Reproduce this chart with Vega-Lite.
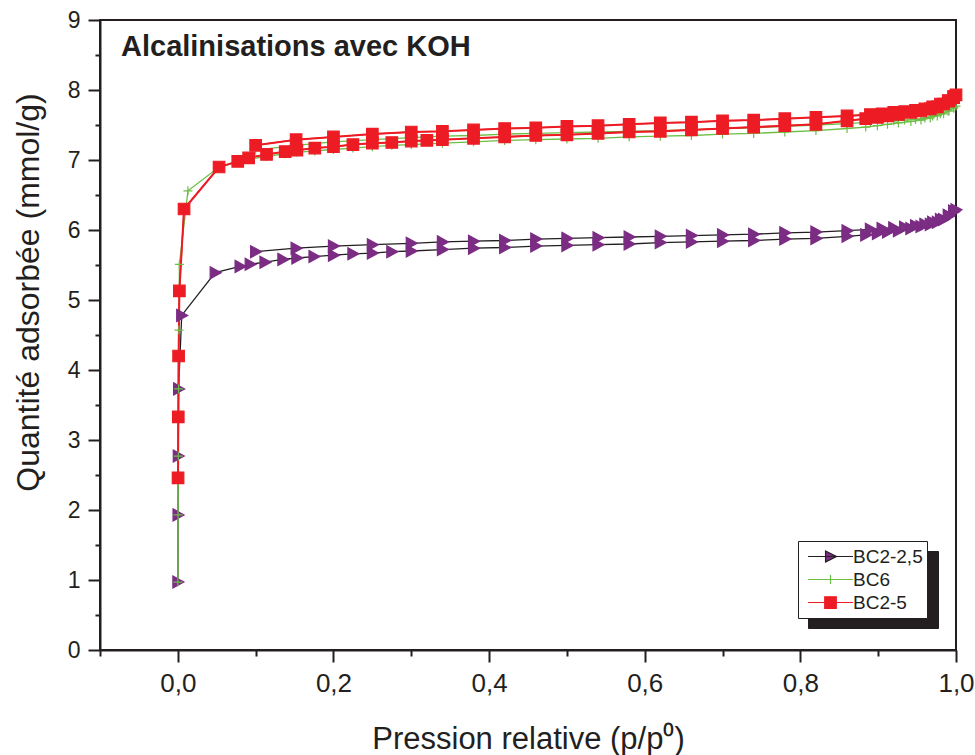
{
  "$schema": "https://vega.github.io/schema/vega-lite/v6.json",
  "width": 856,
  "height": 630,
  "autosize": {"type": "none"},
  "padding": {"left": 100, "top": 20, "right": 19, "bottom": 105},
  "background": "white",
  "config": {
    "view": {"stroke": "#231F20", "strokeWidth": 2},
    "axis": {
      "domainColor": "#231F20", "domainWidth": 2, "tickColor": "#231F20", "tickWidth": 2,
      "labelColor": "#231F20", "titleColor": "#231F20", "labelFont": "Liberation Sans",
      "titleFont": "Liberation Sans", "titleFontWeight": "normal", "grid": false,
      "labelOverlap": false, "labelFlush": false
    }
  },
  "title": {
    "text": "Alcalinisations avec KOH", "anchor": "start", "frame": "group",
    "font": "Liberation Sans", "fontSize": 29, "fontWeight": "bold", "color": "#231F20",
    "baseline": "alphabetic", "offset": 0, "dx": 21, "dy": 76
  },
  "data": {"values": [
    {"s":"BC2-2,5","b":"a","x":0.0001,"y":0.97},{"s":"BC2-2,5","b":"a","x":0.0003,"y":1.93},{"s":"BC2-2,5","b":"a","x":0.0006,"y":2.77},{"s":"BC2-2,5","b":"a","x":0.001,"y":3.73},{"s":"BC2-2,5","b":"a","x":0.005,"y":4.78},{"s":"BC2-2,5","b":"a","x":0.048,"y":5.39},{"s":"BC2-2,5","b":"a","x":0.08,"y":5.48},{"s":"BC2-2,5","b":"a","x":0.093,"y":5.51},{"s":"BC2-2,5","b":"a","x":0.112,"y":5.54},{"s":"BC2-2,5","b":"a","x":0.135,"y":5.58},{"s":"BC2-2,5","b":"a","x":0.153,"y":5.6},{"s":"BC2-2,5","b":"a","x":0.175,"y":5.62},{"s":"BC2-2,5","b":"a","x":0.2,"y":5.64},{"s":"BC2-2,5","b":"a","x":0.225,"y":5.66},{"s":"BC2-2,5","b":"a","x":0.25,"y":5.67},{"s":"BC2-2,5","b":"a","x":0.275,"y":5.69},{"s":"BC2-2,5","b":"a","x":0.3,"y":5.7},{"s":"BC2-2,5","b":"a","x":0.34,"y":5.72},{"s":"BC2-2,5","b":"a","x":0.38,"y":5.74},{"s":"BC2-2,5","b":"a","x":0.42,"y":5.75},{"s":"BC2-2,5","b":"a","x":0.46,"y":5.77},{"s":"BC2-2,5","b":"a","x":0.5,"y":5.78},{"s":"BC2-2,5","b":"a","x":0.54,"y":5.79},{"s":"BC2-2,5","b":"a","x":0.58,"y":5.8},{"s":"BC2-2,5","b":"a","x":0.62,"y":5.82},{"s":"BC2-2,5","b":"a","x":0.66,"y":5.83},{"s":"BC2-2,5","b":"a","x":0.7,"y":5.84},{"s":"BC2-2,5","b":"a","x":0.74,"y":5.85},{"s":"BC2-2,5","b":"a","x":0.78,"y":5.87},{"s":"BC2-2,5","b":"a","x":0.82,"y":5.88},{"s":"BC2-2,5","b":"a","x":0.86,"y":5.91},{"s":"BC2-2,5","b":"a","x":0.884,"y":5.93},{"s":"BC2-2,5","b":"a","x":0.899,"y":5.95},{"s":"BC2-2,5","b":"a","x":0.912,"y":5.97},{"s":"BC2-2,5","b":"a","x":0.926,"y":5.99},{"s":"BC2-2,5","b":"a","x":0.942,"y":6.02},{"s":"BC2-2,5","b":"a","x":0.955,"y":6.05},{"s":"BC2-2,5","b":"a","x":0.967,"y":6.08},{"s":"BC2-2,5","b":"a","x":0.976,"y":6.11},{"s":"BC2-2,5","b":"a","x":0.984,"y":6.15},{"s":"BC2-2,5","b":"a","x":0.991,"y":6.2},{"s":"BC2-2,5","b":"a","x":0.997,"y":6.26},{"s":"BC2-2,5","b":"a","x":1.0,"y":6.29},
    {"s":"BC2-2,5","b":"d","x":0.997,"y":6.27},{"s":"BC2-2,5","b":"d","x":0.99,"y":6.21},{"s":"BC2-2,5","b":"d","x":0.98,"y":6.15},{"s":"BC2-2,5","b":"d","x":0.97,"y":6.11},{"s":"BC2-2,5","b":"d","x":0.96,"y":6.08},{"s":"BC2-2,5","b":"d","x":0.948,"y":6.06},{"s":"BC2-2,5","b":"d","x":0.934,"y":6.04},{"s":"BC2-2,5","b":"d","x":0.92,"y":6.03},{"s":"BC2-2,5","b":"d","x":0.905,"y":6.02},{"s":"BC2-2,5","b":"d","x":0.89,"y":6.01},{"s":"BC2-2,5","b":"d","x":0.86,"y":5.99},{"s":"BC2-2,5","b":"d","x":0.82,"y":5.97},{"s":"BC2-2,5","b":"d","x":0.78,"y":5.96},{"s":"BC2-2,5","b":"d","x":0.74,"y":5.94},{"s":"BC2-2,5","b":"d","x":0.7,"y":5.93},{"s":"BC2-2,5","b":"d","x":0.66,"y":5.92},{"s":"BC2-2,5","b":"d","x":0.62,"y":5.91},{"s":"BC2-2,5","b":"d","x":0.58,"y":5.9},{"s":"BC2-2,5","b":"d","x":0.54,"y":5.89},{"s":"BC2-2,5","b":"d","x":0.5,"y":5.88},{"s":"BC2-2,5","b":"d","x":0.46,"y":5.87},{"s":"BC2-2,5","b":"d","x":0.42,"y":5.85},{"s":"BC2-2,5","b":"d","x":0.38,"y":5.84},{"s":"BC2-2,5","b":"d","x":0.34,"y":5.83},{"s":"BC2-2,5","b":"d","x":0.3,"y":5.81},{"s":"BC2-2,5","b":"d","x":0.25,"y":5.79},{"s":"BC2-2,5","b":"d","x":0.2,"y":5.77},{"s":"BC2-2,5","b":"d","x":0.152,"y":5.74},{"s":"BC2-2,5","b":"d","x":0.1,"y":5.69},
    {"s":"BC6","b":"a","x":0.0001,"y":0.97},{"s":"BC6","b":"a","x":0.0003,"y":1.93},{"s":"BC6","b":"a","x":0.0006,"y":2.77},{"s":"BC6","b":"a","x":0.001,"y":3.73},{"s":"BC6","b":"a","x":0.0015,"y":4.57},{"s":"BC6","b":"a","x":0.002,"y":5.51},{"s":"BC6","b":"a","x":0.013,"y":6.56},{"s":"BC6","b":"a","x":0.053,"y":6.9},{"s":"BC6","b":"a","x":0.077,"y":6.97},{"s":"BC6","b":"a","x":0.091,"y":7.01},{"s":"BC6","b":"a","x":0.114,"y":7.05},{"s":"BC6","b":"a","x":0.138,"y":7.09},{"s":"BC6","b":"a","x":0.153,"y":7.11},{"s":"BC6","b":"a","x":0.176,"y":7.13},{"s":"BC6","b":"a","x":0.2,"y":7.15},{"s":"BC6","b":"a","x":0.225,"y":7.17},{"s":"BC6","b":"a","x":0.25,"y":7.19},{"s":"BC6","b":"a","x":0.275,"y":7.21},{"s":"BC6","b":"a","x":0.3,"y":7.22},{"s":"BC6","b":"a","x":0.34,"y":7.24},{"s":"BC6","b":"a","x":0.38,"y":7.26},{"s":"BC6","b":"a","x":0.42,"y":7.28},{"s":"BC6","b":"a","x":0.46,"y":7.29},{"s":"BC6","b":"a","x":0.5,"y":7.3},{"s":"BC6","b":"a","x":0.54,"y":7.31},{"s":"BC6","b":"a","x":0.58,"y":7.33},{"s":"BC6","b":"a","x":0.62,"y":7.34},{"s":"BC6","b":"a","x":0.66,"y":7.35},{"s":"BC6","b":"a","x":0.7,"y":7.37},{"s":"BC6","b":"a","x":0.74,"y":7.38},{"s":"BC6","b":"a","x":0.78,"y":7.4},{"s":"BC6","b":"a","x":0.82,"y":7.42},{"s":"BC6","b":"a","x":0.86,"y":7.45},{"s":"BC6","b":"a","x":0.884,"y":7.47},{"s":"BC6","b":"a","x":0.899,"y":7.49},{"s":"BC6","b":"a","x":0.912,"y":7.51},{"s":"BC6","b":"a","x":0.926,"y":7.53},{"s":"BC6","b":"a","x":0.942,"y":7.55},{"s":"BC6","b":"a","x":0.955,"y":7.57},{"s":"BC6","b":"a","x":0.967,"y":7.6},{"s":"BC6","b":"a","x":0.976,"y":7.63},{"s":"BC6","b":"a","x":0.984,"y":7.66},{"s":"BC6","b":"a","x":0.991,"y":7.7},{"s":"BC6","b":"a","x":0.997,"y":7.74},{"s":"BC6","b":"a","x":1.0,"y":7.77},
    {"s":"BC6","b":"d","x":0.997,"y":7.75},{"s":"BC6","b":"d","x":0.99,"y":7.7},{"s":"BC6","b":"d","x":0.98,"y":7.66},{"s":"BC6","b":"d","x":0.97,"y":7.63},{"s":"BC6","b":"d","x":0.96,"y":7.6},{"s":"BC6","b":"d","x":0.948,"y":7.58},{"s":"BC6","b":"d","x":0.934,"y":7.57},{"s":"BC6","b":"d","x":0.92,"y":7.56},{"s":"BC6","b":"d","x":0.905,"y":7.55},{"s":"BC6","b":"d","x":0.89,"y":7.54},{"s":"BC6","b":"d","x":0.86,"y":7.52},{"s":"BC6","b":"d","x":0.82,"y":7.5},{"s":"BC6","b":"d","x":0.78,"y":7.48},{"s":"BC6","b":"d","x":0.74,"y":7.46},{"s":"BC6","b":"d","x":0.7,"y":7.45},{"s":"BC6","b":"d","x":0.66,"y":7.43},{"s":"BC6","b":"d","x":0.62,"y":7.42},{"s":"BC6","b":"d","x":0.58,"y":7.41},{"s":"BC6","b":"d","x":0.54,"y":7.4},{"s":"BC6","b":"d","x":0.5,"y":7.39},{"s":"BC6","b":"d","x":0.46,"y":7.38},{"s":"BC6","b":"d","x":0.42,"y":7.37},{"s":"BC6","b":"d","x":0.38,"y":7.35},{"s":"BC6","b":"d","x":0.34,"y":7.34},{"s":"BC6","b":"d","x":0.3,"y":7.32},{"s":"BC6","b":"d","x":0.25,"y":7.29},{"s":"BC6","b":"d","x":0.2,"y":7.26},{"s":"BC6","b":"d","x":0.152,"y":7.21},{"s":"BC6","b":"d","x":0.1,"y":7.14},
    {"s":"BC2-5","b":"a","x":0.0003,"y":2.46},{"s":"BC2-5","b":"a","x":0.0006,"y":3.33},{"s":"BC2-5","b":"a","x":0.001,"y":4.2},{"s":"BC2-5","b":"a","x":0.002,"y":5.13},{"s":"BC2-5","b":"a","x":0.008,"y":6.3},{"s":"BC2-5","b":"a","x":0.053,"y":6.9},{"s":"BC2-5","b":"a","x":0.077,"y":6.98},{"s":"BC2-5","b":"a","x":0.091,"y":7.03},{"s":"BC2-5","b":"a","x":0.114,"y":7.08},{"s":"BC2-5","b":"a","x":0.138,"y":7.12},{"s":"BC2-5","b":"a","x":0.153,"y":7.14},{"s":"BC2-5","b":"a","x":0.176,"y":7.17},{"s":"BC2-5","b":"a","x":0.2,"y":7.19},{"s":"BC2-5","b":"a","x":0.225,"y":7.22},{"s":"BC2-5","b":"a","x":0.25,"y":7.24},{"s":"BC2-5","b":"a","x":0.275,"y":7.25},{"s":"BC2-5","b":"a","x":0.3,"y":7.27},{"s":"BC2-5","b":"a","x":0.32,"y":7.28},{"s":"BC2-5","b":"a","x":0.34,"y":7.29},{"s":"BC2-5","b":"a","x":0.38,"y":7.31},{"s":"BC2-5","b":"a","x":0.42,"y":7.33},{"s":"BC2-5","b":"a","x":0.46,"y":7.35},{"s":"BC2-5","b":"a","x":0.5,"y":7.36},{"s":"BC2-5","b":"a","x":0.54,"y":7.38},{"s":"BC2-5","b":"a","x":0.58,"y":7.4},{"s":"BC2-5","b":"a","x":0.62,"y":7.41},{"s":"BC2-5","b":"a","x":0.66,"y":7.43},{"s":"BC2-5","b":"a","x":0.7,"y":7.45},{"s":"BC2-5","b":"a","x":0.74,"y":7.47},{"s":"BC2-5","b":"a","x":0.78,"y":7.49},{"s":"BC2-5","b":"a","x":0.82,"y":7.51},{"s":"BC2-5","b":"a","x":0.86,"y":7.56},{"s":"BC2-5","b":"a","x":0.884,"y":7.59},{"s":"BC2-5","b":"a","x":0.899,"y":7.61},{"s":"BC2-5","b":"a","x":0.912,"y":7.63},{"s":"BC2-5","b":"a","x":0.926,"y":7.65},{"s":"BC2-5","b":"a","x":0.942,"y":7.68},{"s":"BC2-5","b":"a","x":0.955,"y":7.7},{"s":"BC2-5","b":"a","x":0.967,"y":7.73},{"s":"BC2-5","b":"a","x":0.976,"y":7.76},{"s":"BC2-5","b":"a","x":0.984,"y":7.8},{"s":"BC2-5","b":"a","x":0.991,"y":7.84},{"s":"BC2-5","b":"a","x":0.997,"y":7.89},{"s":"BC2-5","b":"a","x":1.0,"y":7.93},
    {"s":"BC2-5","b":"d","x":0.997,"y":7.91},{"s":"BC2-5","b":"d","x":0.99,"y":7.85},{"s":"BC2-5","b":"d","x":0.98,"y":7.8},{"s":"BC2-5","b":"d","x":0.97,"y":7.76},{"s":"BC2-5","b":"d","x":0.96,"y":7.73},{"s":"BC2-5","b":"d","x":0.948,"y":7.71},{"s":"BC2-5","b":"d","x":0.934,"y":7.69},{"s":"BC2-5","b":"d","x":0.92,"y":7.68},{"s":"BC2-5","b":"d","x":0.905,"y":7.66},{"s":"BC2-5","b":"d","x":0.89,"y":7.65},{"s":"BC2-5","b":"d","x":0.86,"y":7.63},{"s":"BC2-5","b":"d","x":0.82,"y":7.61},{"s":"BC2-5","b":"d","x":0.78,"y":7.59},{"s":"BC2-5","b":"d","x":0.74,"y":7.57},{"s":"BC2-5","b":"d","x":0.7,"y":7.56},{"s":"BC2-5","b":"d","x":0.66,"y":7.54},{"s":"BC2-5","b":"d","x":0.62,"y":7.53},{"s":"BC2-5","b":"d","x":0.58,"y":7.51},{"s":"BC2-5","b":"d","x":0.54,"y":7.49},{"s":"BC2-5","b":"d","x":0.5,"y":7.48},{"s":"BC2-5","b":"d","x":0.46,"y":7.46},{"s":"BC2-5","b":"d","x":0.42,"y":7.45},{"s":"BC2-5","b":"d","x":0.38,"y":7.43},{"s":"BC2-5","b":"d","x":0.34,"y":7.41},{"s":"BC2-5","b":"d","x":0.3,"y":7.4},{"s":"BC2-5","b":"d","x":0.25,"y":7.37},{"s":"BC2-5","b":"d","x":0.2,"y":7.33},{"s":"BC2-5","b":"d","x":0.152,"y":7.29},{"s":"BC2-5","b":"d","x":0.1,"y":7.21}
  ]},
  "encoding": {
    "x": {
      "field": "x", "type": "quantitative",
      "scale": {"domain": [-0.1, 1.0], "nice": false, "zero": false},
      "axis": {
        "title": "Pression relative (p/p⁰)",
        "values": [-0.1, 0, 0.1, 0.2, 0.3, 0.4, 0.5, 0.6, 0.7, 0.8, 0.9, 1.0],
        "labelExpr": "abs(round(datum.value*10)) % 2 == 0 ? replace(format(datum.value, '.1f'), '.', ',') : ''",
        "tickSize": {"condition": {"test": "abs(round(datum.value*10)) % 2 == 0", "value": 12}, "value": 6},
        "labelFontSize": 26, "labelPadding": 8, "titleFontSize": 31, "titlePadding": 28
      }
    },
    "y": {
      "field": "y", "type": "quantitative",
      "scale": {"domain": [0, 9], "nice": false},
      "axis": {
        "title": "Quantité adsorbée (mmol/g)",
        "values": [0, 0.5, 1, 1.5, 2, 2.5, 3, 3.5, 4, 4.5, 5, 5.5, 6, 6.5, 7, 7.5, 8, 8.5, 9],
        "labelExpr": "datum.value % 1 === 0 ? format(datum.value, 'd') : ''",
        "tickSize": {"condition": {"test": "datum.value % 1 === 0", "value": 12}, "value": 5},
        "labelFontSize": 23, "labelPadding": 8, "titleFontSize": 32, "titlePadding": 22,
        "titleY": 272
      }
    }
  },
  "layer": [
    {
      "mark": {"type": "line", "strokeWidth": 1.3},
      "encoding": {
        "stroke": {
          "field": "s", "type": "nominal",
          "scale": {"domain": ["BC2-2,5", "BC6", "BC2-5"], "range": ["#231F20", "#6CBE45", "#ED1C24"]},
          "legend": {
            "orient": "none", "legendX": 708, "legendY": 531, "title": null,
            "fillColor": "#231F20", "strokeColor": "#231F20", "padding": 4,
            "symbolSize": 15876, "symbolStrokeWidth": 1.2, "clipHeight": 23, "rowPadding": 0,
            "labelOffset": -6, "labelFont": "Liberation Sans", "labelFontSize": 19, "labelColor": "#231F20",
            "labelExpr": "''",
            "encode": {"symbols": {"update": {"opacity": {"value": 0}}}}
          }
        },
        "detail": {"field": "b"}
      }
    },
    {
      "transform": [{"filter": "datum.s === 'BC2-5'"}],
      "mark": {"type": "line", "strokeWidth": 2},
      "encoding": {
        "detail": {"field": "b"},
        "stroke": {
          "field": "s", "type": "nominal",
          "scale": {"domain": ["BC2-2,5", "BC6", "BC2-5"], "range": ["#231F20", "#6CBE45", "#ED1C24"]},
          "legend": {
            "orient": "none", "legendX": 698, "legendY": 521, "title": null,
            "fillColor": "white", "strokeColor": "#231F20", "padding": 4,
            "symbolSize": 3025, "symbolStrokeWidth": 1.2, "clipHeight": 23, "rowPadding": 0,
            "labelOffset": -6, "labelFont": "Liberation Sans", "labelFontSize": 19, "labelColor": "#231F20",
            "encode": {"symbols": {"update": {
              "shape": {"signal": "datum.value === 'BC2-2,5' ? 'M-0.818,0H0.818M-0.18,-0.2L0.22,0L-0.18,0.2Z' : datum.value === 'BC6' ? 'M-0.818,0H0.818M0,-0.16V0.16' : 'M-0.818,0H0.818M-0.21,-0.21H0.21V0.21H-0.21Z'"},
              "fill": {"signal": "datum.value === 'BC2-2,5' ? '#7B2C83' : datum.value === 'BC6' ? 'transparent' : '#ED1C24'"},
              "size": {"value": 3025},
              "strokeWidth": {"value": 1.2},
              "opacity": {"value": 1}
            }}}
          }
        }
      }
    },
    {
      "mark": {"type": "point", "filled": true, "opacity": 1, "size": 100, "strokeWidth": 1.2},
      "encoding": {
        "shape": {
          "field": "s", "type": "nominal",
          "scale": {"domain": ["BC2-2,5", "BC6", "BC2-5"], "range": ["M-1,-1.2L1.2,0L-1,1.2Z", "M-0.9,0H0.9M0,-0.9V0.9", "M-1.15,-1.15H1.15V1.15H-1.15Z"]},
          "legend": null
        },
        "stroke": {
          "field": "s", "type": "nominal",
          "scale": {"domain": ["BC2-2,5", "BC6", "BC2-5"], "range": ["#7B2C83", "#6CBE45", "#ED1C24"]},
          "legend": null
        },
        "fill": {
          "field": "s", "type": "nominal",
          "scale": {"domain": ["BC2-2,5", "BC6", "BC2-5"], "range": ["#7B2C83", "transparent", "#ED1C24"]},
          "legend": null
        }
      }
    }
  ],
  "resolve": {"scale": {"stroke": "independent"}}
}
